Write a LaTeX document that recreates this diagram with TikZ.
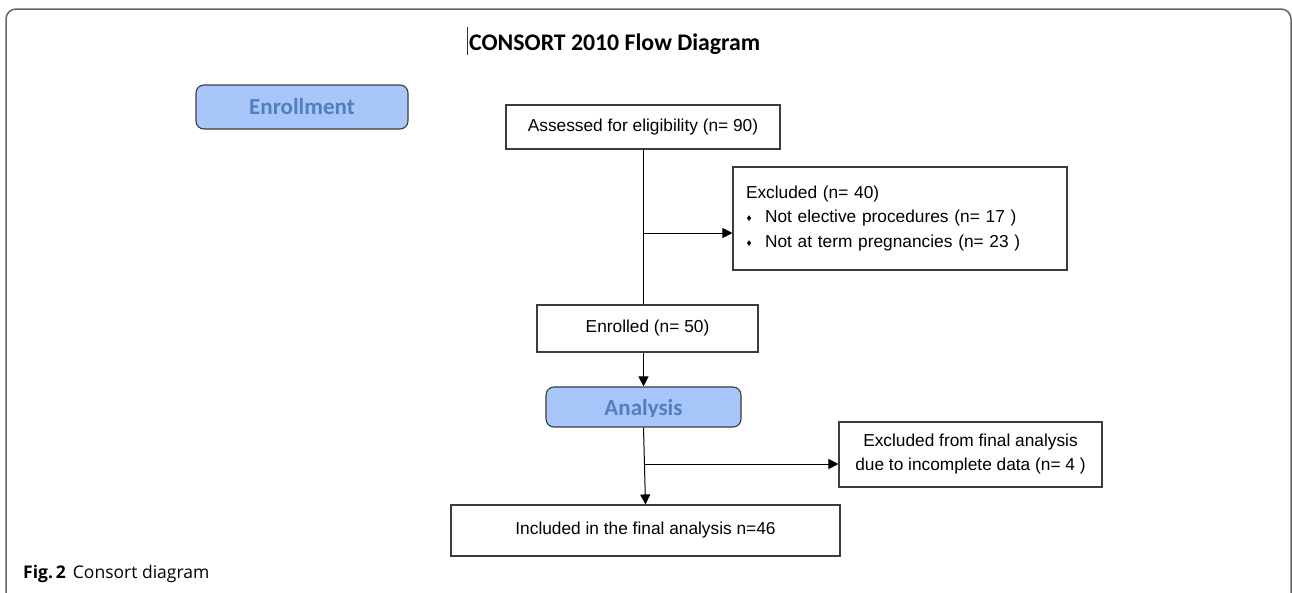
\documentclass[tikz,border=0pt]{standalone}
\usepackage{fontspec}
\setmainfont{Liberation Sans}
\newfontfamily\carlito{Carlito}
\newfontfamily\capfont{Open Sans}
\usetikzlibrary{arrows.meta,calc}
\definecolor{phasefill}{RGB}{168,198,250}
\definecolor{phasetext}{RGB}{79,129,189}
\definecolor{boxline}{RGB}{60,60,60}
\definecolor{framecol}{RGB}{100,100,100}
\newcommand\bulletmark{\makebox[19pt][l]{\hspace{0.5pt}\raisebox{1pt}{\fontsize{10}{10}\selectfont ♦}}}
\begin{document}
\begin{tikzpicture}[x=1pt,y=-1pt,
  box/.style={draw=boxline, line width=1.1pt, fill=white, inner sep=0pt,
    font=\fontsize{17.3}{24.5}\selectfont, align=center},
  phase/.style={draw=boxline, line width=1.1pt, fill=phasefill, rounded corners=8pt, inner sep=0pt},
  phaselabel/.style={font=\carlito\bfseries\fontsize{23}{26}\selectfont, text=phasetext, inner sep=0pt},
  arr/.style={line width=1pt, draw=black, -{Triangle[length=10pt,width=10pt]}},
  con/.style={line width=1pt, draw=black}]
\useasboundingbox (0,0) rectangle (1292,592);
% outer frame
\draw[framecol, line width=1.5pt, rounded corners=10pt] (6,600) -- (6,9) -- (1291,9) -- (1291,600);
% title
\draw[black!80, line width=0.8pt] (467,27) -- (467,55);
\node[anchor=base west, inner sep=0pt, font=\carlito\bfseries\fontsize{23.8}{26}\selectfont] (title) at (469,50) {CONSORT 2010 Flow Diagram};
% phase boxes
\node[phase, minimum width=212pt, minimum height=44pt] (enroll) at (302,107) {};
\node[phaselabel, anchor=base] (enrolllabel) at (302,114.5) {Enrollment};
\node[phase, minimum width=195pt, minimum height=40pt] (analysis) at (643.5,407) {};
\begin{scope}
  \clip (analysis.north west) rectangle (741,416.5);
  \node[phaselabel, anchor=base] (analysislabel) at (643.5,415.5) {Analysis};
\end{scope}
% boxes
\node[box, minimum width=274pt, minimum height=44pt] (assess) at (643,127) {Assessed for eligibility (n= 90)};
\node[box, minimum width=334pt, minimum height=103pt, text width=308pt, align=left] (excl1) at (900,218.5)
  {Excluded (n= 40)\\\bulletmark Not elective procedures (n= 17 )\\\bulletmark Not at term pregnancies (n= 23 )};
\node[box, minimum width=221pt, minimum height=47pt] (enrolled) at (647.5,328.5) {Enrolled (n= 50)};
\node[box, minimum width=263pt, minimum height=65pt, font=\fontsize{17.3}{24}\selectfont] (excl2) at (970.5,454.5)
  {Excluded from final analysis\\due to incomplete data (n= 4 )};
\node[box, minimum width=389pt, minimum height=51pt] (included) at (645.5,530.5) {Included in the final analysis n=46};
% connectors
\coordinate (b1) at (643,233);
\coordinate (b2) at (644.3,464);
\draw[con] (assess.south) -- (assess.south |- enrolled.north);
\draw[arr] (b1) -- (b1 -| excl1.west);
\draw[arr] (analysis.north |- enrolled.south) -- (analysis.north);
\draw[arr] (analysis.south) -- (included.north);
\draw[arr] (b2) -- (b2 -| excl2.west);
% caption
\node[anchor=base west, inner sep=0pt, font=\capfont\fontsize{17.5}{20}\selectfont] (caption) at (23,578)
  {\textbf{Fig.\,2}\hspace{7pt}Consort diagram};
\end{tikzpicture}
\end{document}
